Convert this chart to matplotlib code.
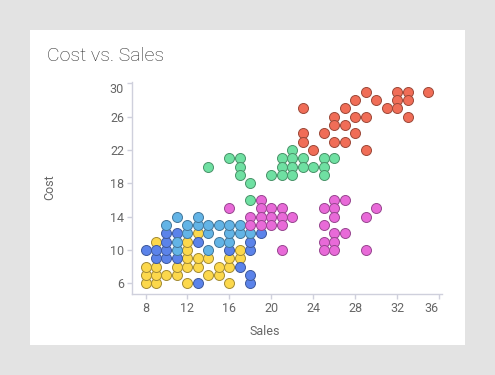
import matplotlib
matplotlib.use('Agg')
import matplotlib.pyplot as plt
from matplotlib.patches import Rectangle

plt.rcParams['font.family'] = ['Roboto', 'DejaVu Sans']

# Data: (sales, cost) per group
yellow_sales = [8, 9, 12, 16,
                8, 9, 10, 11, 14, 15,
                8, 9, 11, 12, 13, 15, 16,
                12, 13, 14, 16, 17,
                12, 17,
                9, 12,
                13]
yellow_cost = [6, 6, 6, 6,
               7, 7, 7, 7, 7, 7,
               8, 8, 8, 8, 8, 8, 8,
               9, 9, 9, 9, 9,
               10, 10,
               11, 11,
               12]

blue_sales = [13, 18, 18, 17, 9, 10, 11, 8, 9, 10, 16, 18, 10, 13, 18, 10, 11, 19]
blue_cost = [6, 6, 7, 8, 9, 9, 9, 10, 10, 10, 10, 10, 11, 11, 11, 12, 12, 12]

lightblue_sales = [11, 14, 11, 15, 16, 12, 14, 16, 17, 18,
                   10, 12, 13, 14, 15, 16, 17, 11, 13]
lightblue_cost = [10, 10, 11, 11, 11, 12, 12, 12, 12, 12,
                  13, 13, 13, 13, 13, 13, 13, 14, 14]

pink_sales = [16, 18, 18, 19, 19, 19, 19, 20, 20, 20, 21, 21, 21, 21, 22,
              25, 25, 25, 25, 26, 26, 26, 26, 26, 26, 27, 27, 29, 29, 30]
pink_cost = [15, 14, 13, 16, 15, 14, 13, 15, 14, 13, 15, 14, 13, 10, 14,
             15, 13, 11, 10, 16, 15, 14, 12, 11, 10, 16, 12, 14, 10, 15]

green_sales = [14, 16, 17, 17, 17, 18, 18, 20, 21, 21, 21, 22, 22, 22, 22,
               23, 23, 24, 25, 25, 25, 26]
green_cost = [20, 21, 21, 20, 19, 18, 16, 19, 21, 20, 19, 22, 21, 20, 19,
              21, 20, 20, 21, 20, 19, 21]

red_sales = [23, 23, 23, 24, 25, 26, 26, 26, 27, 27, 27, 28, 28, 28,
             29, 29, 29, 30, 31, 32, 32, 32, 33, 33, 33, 35]
red_cost = [27, 24, 23, 22, 24, 26, 25, 23, 27, 25, 23, 28, 26, 24,
            29, 26, 22, 28, 27, 29, 28, 27, 29, 28, 26, 29]

x_ticks = [8, 12, 16, 20, 24, 28, 32, 36]
y_ticks = [6, 10, 14, 18, 22, 26, 30]

groups = [
    (yellow_sales, yellow_cost, '#fcd84c', '#a38b35'),
    (blue_sales, blue_cost, '#5b83ea', '#3f5a9c'),
    (lightblue_sales, lightblue_cost, '#63b4e6', '#44779a'),
    (pink_sales, pink_cost, '#e86ad8', '#984790'),
    (green_sales, green_cost, '#6fe0a2', '#4a936a'),
    (red_sales, red_cost, '#f06d57', '#9c4939'),
]

fig = plt.figure(figsize=(4.95, 3.75), dpi=100)
fig.patch.set_facecolor('#e3e3e3')
# white card behind everything
card = Rectangle((30 / 495, 30 / 375), 435 / 495, 315 / 375,
                 transform=fig.transFigure, facecolor='white',
                 edgecolor='none', zorder=-10)
fig.patches.append(card)

ax = fig.add_axes([131.7 / 495, 81 / 375, 310.6 / 495, 212 / 375])
ax.set_zorder(5)
ax.set_facecolor('none')

for xs, ys, fc, ec in groups:
    ax.scatter(xs, ys, s=52, facecolor=fc, edgecolor=ec, linewidth=0.7,
               zorder=3, clip_on=False)

ax.set_xlim(6.68, 36.32)
ax.set_ylim(4.72, 30.17)
ax.set_xticks(x_ticks)
ax.set_yticks(y_ticks)

axis_col = '#cfd0dc'
for side in ['top', 'right']:
    ax.spines[side].set_visible(False)
for side in ['left', 'bottom']:
    ax.spines[side].set_color(axis_col)
    ax.spines[side].set_linewidth(1.0)
ax.tick_params(colors=axis_col, length=3.5, width=1.0, pad=2,
               labelcolor='#666666', labelsize=9)

xl = ax.get_xticklabels()
xl[-1].set_ha('right')
yl = ax.get_yticklabels()
yl[-1].set_va('top')

fig.text(264.5 / 495, 1 - 331.5 / 375, 'Sales', ha='center', va='center',
         fontsize=9, color='#666666')
fig.text(49.5 / 495, 1 - 187 / 375, 'Cost', ha='center', va='center',
         rotation=90, fontsize=9, color='#666666')
fig.text(47 / 495, 1 - 60.7 / 375, 'Cost vs. Sales', ha='left', va='baseline',
         fontsize=14, color='#2a2a2a', fontweight='light')

fig.savefig('out.png', dpi=100, facecolor=fig.get_facecolor())
